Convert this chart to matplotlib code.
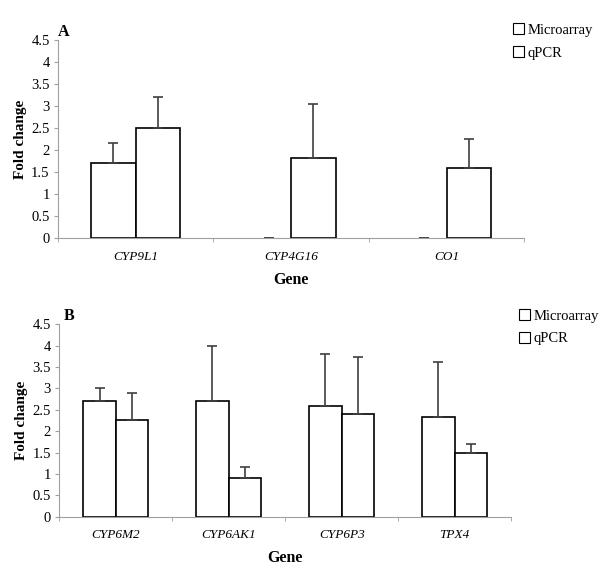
import numpy as np
import matplotlib
matplotlib.use('Agg')
import matplotlib.pyplot as plt
from matplotlib.patches import Patch

plt.rcParams['font.family'] = ['Liberation Serif', 'DejaVu Serif']

# Panel A data
genes_a = ['CYP9L1', 'CYP4G16', 'CO1']
micro_a = [1.7, 0.0, 0.0]
micro_a_err = [0.45, 0.0, 0.0]
qpcr_a = [2.5, 1.82, 1.6]
qpcr_a_err = [0.7, 1.23, 0.66]

# Panel B data
genes_b = ['CYP6M2', 'CYP6AK1', 'CYP6P3', 'TPX4']
micro_b = [2.7, 2.7, 2.6, 2.32]
micro_b_err = [0.3, 1.3, 1.2, 1.29]
qpcr_b = [2.25, 0.9, 2.4, 1.5]
qpcr_b_err = [0.64, 0.27, 1.33, 0.2]

yticks = [0, 0.5, 1, 1.5, 2, 2.5, 3, 3.5, 4, 4.5]
ytick_labels = ['0', '0.5', '1', '1.5', '2', '2.5', '3', '3.5', '4', '4.5']

AXIS_GRAY = '#a0a0a0'
ERR_GRAY = '#404040'


def draw_panel(ax, genes, micro, micro_err, qpcr, qpcr_err, letter, letter_x, legend_xy):
    x = np.arange(len(genes))
    w = 0.287
    lw_m = [1.2 if v > 0 else 0 for v in micro]
    lw_q = [1.2 if v > 0 else 0 for v in qpcr]
    ax.bar(x - w / 2, micro, w, color='white', edgecolor='black', linewidth=lw_m)
    ax.bar(x + w / 2, qpcr, w, color='white', edgecolor='black', linewidth=lw_q)
    ax.errorbar(x - w / 2, micro, yerr=[np.zeros(len(micro)), micro_err],
                fmt='none', ecolor=ERR_GRAY, elinewidth=1.2, capsize=3.5, capthick=1.2)
    ax.errorbar(x + w / 2, qpcr, yerr=[np.zeros(len(qpcr)), qpcr_err],
                fmt='none', ecolor=ERR_GRAY, elinewidth=1.2, capsize=3.5, capthick=1.2)

    ax.set_xlim(-0.5, len(genes) - 0.5)
    ax.set_ylim(0, 4.5)
    ax.set_yticks(yticks)
    ax.set_yticklabels(ytick_labels, fontsize=10.5)
    ax.set_xticks(x)
    ax.set_xticklabels(genes, fontsize=9.5, style='italic')
    ax.set_xticks(np.arange(len(genes) + 1) - 0.5, minor=True)
    ax.tick_params(axis='x', which='major', length=0, pad=9)
    ax.tick_params(axis='x', which='minor', length=3, color=AXIS_GRAY, direction='out')
    ax.tick_params(axis='y', length=3, color=AXIS_GRAY, direction='out', pad=3)

    for side in ['top', 'right']:
        ax.spines[side].set_visible(False)
    for side in ['left', 'bottom']:
        ax.spines[side].set_color(AXIS_GRAY)
        ax.spines[side].set_linewidth(0.8)

    ax.set_ylabel('Fold change', fontsize=11, fontweight='bold', labelpad=3)
    ax.set_xlabel('Gene', fontsize=11.5, fontweight='bold', labelpad=6.5)
    ax.text(letter_x, 1.0, letter, transform=ax.transAxes, fontsize=11.5,
            fontweight='bold', ha='left', va='bottom')

    handles = [Patch(facecolor='white', edgecolor='black', linewidth=0.8, label='Microarray'),
               Patch(facecolor='white', edgecolor='black', linewidth=0.8, label='qPCR')]
    ax.figure.legend(handles=handles, loc='upper left', bbox_to_anchor=legend_xy,
                     frameon=False, fontsize=10.5, handlelength=0.75, handleheight=0.75,
                     handletextpad=0.25, labelspacing=0.65, borderpad=0)


fig = plt.figure(figsize=(6, 5.76), dpi=100)
ax_a = fig.add_axes([0.0967, 0.5868, 0.777, 0.3438])
ax_b = fig.add_axes([0.0988, 0.1030, 0.753, 0.334])

draw_panel(ax_a, genes_a, micro_a, micro_a_err, qpcr_a, qpcr_a_err, 'A', 0.0, (0.843, 0.972))
draw_panel(ax_b, genes_b, micro_b, micro_b_err, qpcr_b, qpcr_b_err, 'B', 0.01, (0.853, 0.476))

fig.savefig('out.png', dpi=100)
